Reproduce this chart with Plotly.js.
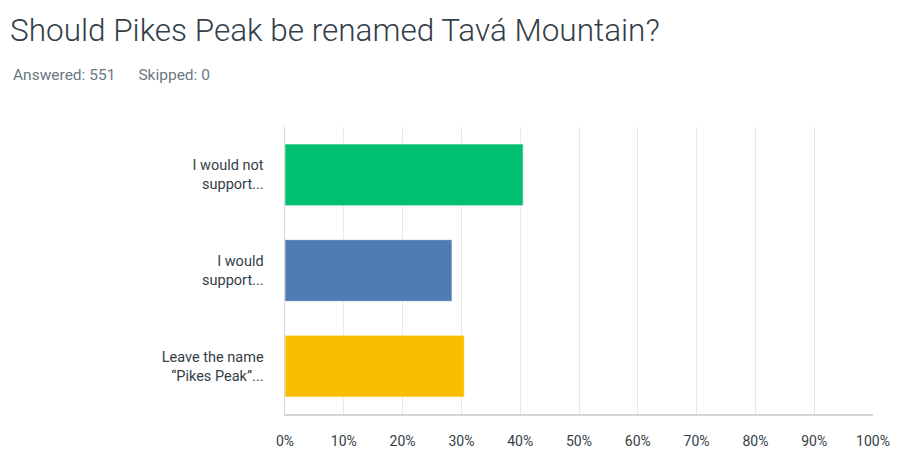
<!DOCTYPE html>
<html>
<head>
<meta charset="utf-8">
<script src="https://cdn.plot.ly/plotly-3.0.1.min.js"></script>
<style>html,body{margin:0;padding:0;background:#fff;}#chart{width:900px;height:467px;}</style>
</head>
<body>
<div id="chart"></div>
<script>
const categories = ["I would not<br>support...", "I would<br>support...", "Leave the name<br>“Pikes Peak”..."];
const values = [0.405, 0.284, 0.305];
const barColors = ["#00BF6F", "#507CB6", "#F9BE00"];
const titleText = "Should Pikes Peak be renamed Tavá Mountain?";
const subtitleText = "Answered: 551&nbsp;&nbsp;&nbsp;&nbsp;&nbsp;&nbsp;Skipped: 0";

const FONT = "Roboto, 'Open Sans', sans-serif";
const L = 284.5, R = 27, T = 127, B = 52.5;
const pw = 900 - L - R;
const px2paper = p => (p - L) / pw;

const data = [{
  type: 'bar',
  orientation: 'h',
  y: categories,
  x: values,
  marker: {color: barColors, line: {color: 'rgba(255,255,255,0.6)', width: 1}},
  width: 0.645,
  hoverinfo: 'none'
}];

const layout = {
  width: 900, height: 467,
  margin: {l: L, r: R, t: T, b: B, pad: 0},
  paper_bgcolor: '#fff', plot_bgcolor: '#fff',
  showlegend: false,
  font: {family: FONT, color: '#333e48', size: 13},
  title: {
    text: titleText,
    font: {family: FONT, size: 31.5, color: '#333e48', weight: 300},
    xref: 'container', yref: 'container',
    x: 10/900, xanchor: 'left',
    y: 1 - 30/467, yanchor: 'middle'
  },
  annotations: [{
    text: subtitleText,
    xref: 'paper', yref: 'paper',
    x: px2paper(10), xanchor: 'left',
    y: 1 + (T - 75) / (467 - T - B), yanchor: 'middle',
    showarrow: false,
    font: {family: FONT, size: 15.5, color: '#6b787f'}
  }],
  xaxis: {
    range: [0, 1],
    tickformat: '.0%',
    dtick: 0.1, tick0: 0,
    showgrid: true, gridcolor: '#e8e8e8', gridwidth: 1,
    showline: true, linecolor: '#d6d6d6', linewidth: 1.5,
    zeroline: false,
    ticks: '',
    ticklabelstandoff: 14,
    tickfont: {family: FONT, size: 14, color: '#333e48'},
    fixedrange: true
  },
  yaxis: {
    autorange: 'reversed',
    showline: true, linecolor: '#d6d6d6', linewidth: 1.5,
    showgrid: false, zeroline: false,
    ticks: '',
    ticklabelstandoff: 17,
    tickfont: {family: FONT, size: 14.5, color: '#333e48'},
    fixedrange: true
  }
};

Plotly.newPlot('chart', data, layout, {displayModeBar: false, staticPlot: true});
</script>
</body>
</html>
